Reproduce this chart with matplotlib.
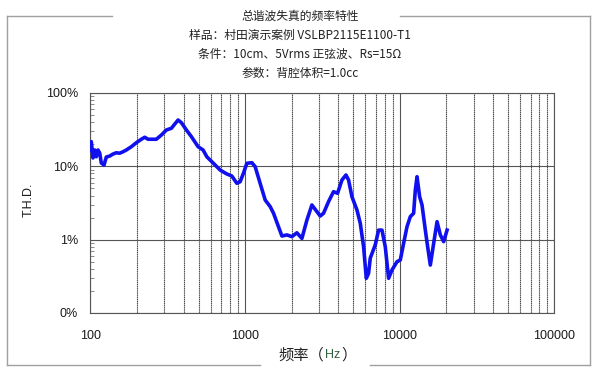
import matplotlib
matplotlib.use('Agg')
import matplotlib.pyplot as plt
import matplotlib.ticker as mticker
from matplotlib.lines import Line2D

plt.rcParams['font.family'] = ['Liberation Sans', 'Noto Sans CJK SC', 'DejaVu Sans']

# THD curve (Hz, %)
freq = [100, 101.2, 103.8, 106.5, 109.0, 111.8, 114.7, 117.5, 122.3, 126.6,
        133.1, 139.8, 146.9, 154.5, 162.3, 170.5, 183.7, 197.9, 213.2, 224.3,
        235.6, 253.8, 266.7, 287.3, 309.5, 333.4, 353.9, 368.4, 387.0, 416.9,
        449.2, 496.5, 534.8, 565.1, 623.6, 689.0, 761.6, 820.2, 883.6, 928.2,
        975.0, 1026, 1105, 1161, 1250, 1348, 1452, 1526, 1643, 1729,
        1862, 2006, 2161, 2328, 2508, 2702, 2911, 3058, 3213, 3461,
        3728, 3958, 4227, 4486, 4663, 4904, 5284, 5552, 5833, 6072,
        6281, 6442, 6940, 7293, 7670, 8055, 8463, 8903, 9592, 10074,
        10583, 11132, 11695, 12285, 12600, 12923, 13434, 13922, 14622, 15136,
        15754, 16553, 17413, 18288, 19211, 20214]
thd = [16.7, 21.7, 13.0, 16.7, 13.5, 16.7, 15.2, 11.1, 10.4, 13.4,
       13.8, 14.7, 15.3, 15.1, 15.8, 16.7, 18.5, 21.0, 23.4, 24.9,
       23.4, 23.4, 23.4, 26.7, 31.3, 33.0, 38.6, 42.8, 39.4, 31.3,
       25.4, 18.5, 16.7, 13.5, 11.0, 8.9, 7.86, 7.38, 5.87, 6.17,
       8.04, 11.0, 11.2, 9.89, 5.87, 3.47, 2.82, 2.29, 1.50, 1.12,
       1.16, 1.10, 1.24, 1.04, 1.85, 2.97, 2.41, 2.10, 2.29, 3.30,
       4.51, 4.29, 6.51, 7.62, 6.51, 3.85, 2.54, 1.67, 0.80, 0.297,
       0.348, 0.56, 0.85, 1.35, 1.35, 0.80, 0.297, 0.386, 0.50, 0.528,
       0.89, 1.50, 2.06, 2.29, 4.75, 7.22, 3.85, 2.97, 1.35, 0.80,
       0.45, 0.89, 1.76, 1.16, 0.94, 1.35]

x_ticks = [100, 1000, 10000, 100000]
x_labels = ['100', '1000', '10000', '100000']
y_ticks = [0.1, 1, 10, 100]
y_labels = ['0%', '1%', '10%', '100%']

title_lines = ['总谐波失真的频率特性',
               '样品：村田演示案例 VSLBP2115E1100-T1',
               '条件：10cm、5Vrms 正弦波、Rs=15Ω',
               '参数：背腔体积=1.0cc']

cjk = ['Noto Sans CJK SC', 'DejaVu Sans']

fig = plt.figure(figsize=(6, 3.73), dpi=100)
ax = fig.add_axes([0.1508, 0.1609, 0.7733, 0.5898])

ax.plot(freq, thd, color='#1010ee', lw=2.6, solid_joinstyle='round', zorder=3)

ax.set_xscale('log')
ax.set_yscale('log')
ax.set_xlim(100, 100000)
ax.set_ylim(0.1, 100)

ax.xaxis.set_major_locator(mticker.FixedLocator(x_ticks))
ax.xaxis.set_major_formatter(mticker.FixedFormatter(x_labels))
ax.xaxis.set_minor_locator(mticker.LogLocator(base=10, subs=range(2, 10)))
ax.xaxis.set_minor_formatter(mticker.NullFormatter())
ax.yaxis.set_major_locator(mticker.FixedLocator(y_ticks))
ax.yaxis.set_major_formatter(mticker.FixedFormatter(y_labels))
ax.yaxis.set_minor_locator(mticker.LogLocator(base=10, subs=range(2, 10)))
ax.yaxis.set_minor_formatter(mticker.NullFormatter())

ax.tick_params(axis='x', which='both', length=0, labelsize=9, pad=12, colors='#1a1a1a')
ax.tick_params(axis='y', which='major', length=0, labelsize=9, pad=9, colors='#1a1a1a')
ax.tick_params(axis='y', which='minor', direction='in', length=3, color='#777777', width=0.6)

ax.grid(True, axis='x', which='major', color='#555555', lw=0.8, ls='-')
ax.grid(True, axis='x', which='minor', color='#4a4a4a', lw=0.8, ls=(0, (1.2, 0.5)))
ax.grid(True, axis='y', which='major', color='#555555', lw=0.8, ls='-')
for sp in ax.spines.values():
    sp.set_color('#555555')
    sp.set_linewidth(0.8)

fig.text(29 / 600, 1 - 200 / 373, 'T.H.D.', rotation=90, ha='center', va='center',
         fontsize=9, color='#1a1a1a')

# title block
for i, line in enumerate(title_lines):
    fig.text(0.5, 1 - (16 + 19 * i) / 373, line, ha='center', va='center',
             fontsize=8.5, family=cjk, color='#222222')

# x label, unit drawn in green
ylab = 1 - 355 / 373
fig.text(278 / 600, ylab, '频率（', ha='left', va='center', fontsize=11,
         family=cjk, color='#222222')
fig.text(325 / 600, ylab, 'Hz', ha='left', va='center', fontsize=9, color='#2e5e3a')
fig.text(341 / 600, ylab, '）', ha='left', va='center', fontsize=11,
         family=cjk, color='#222222')

# outer frame with gaps for title and x label
def px(x, y):
    return x / 600, 1 - y / 373

frame = [((112, 16), (7, 16)), ((7, 16), (7, 365)), ((7, 365), (260, 365)),
         ((370, 365), (590, 365)), ((590, 365), (590, 16)), ((590, 16), (400, 16))]
for (x0, y0), (x1, y1) in frame:
    a, b = px(x0, y0)
    c, d = px(x1, y1)
    fig.add_artist(Line2D([a, c], [b, d], color='#a0a0a0', lw=1.0))

fig.savefig('out.png', dpi=100)
